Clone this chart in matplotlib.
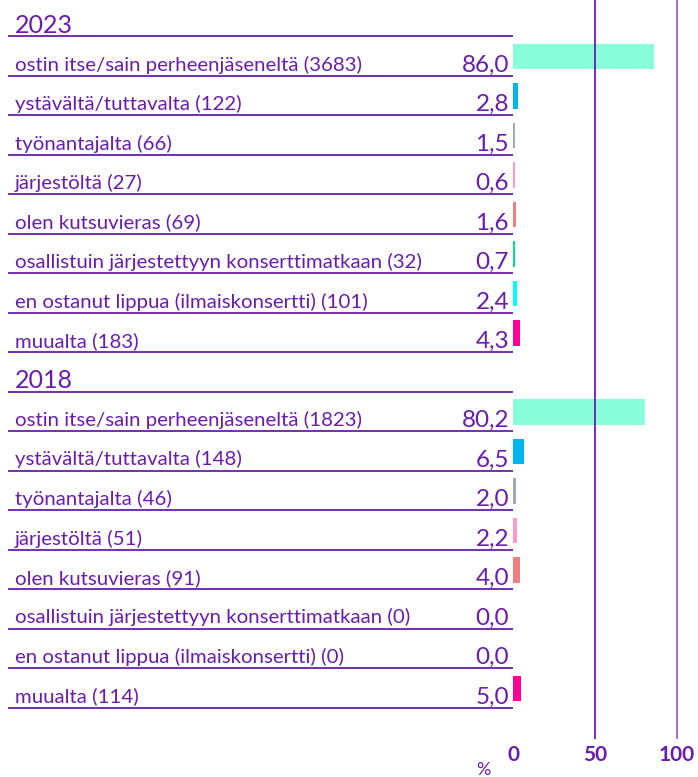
import matplotlib.pyplot as plt

plt.rcParams['font.family'] = ['Lato', 'DejaVu Sans']

years = ["2023", "2018"]
labels_2023 = ["ostin itse/sain perheenjäseneltä (3683)", "ystävältä/tuttavalta (122)",
               "työnantajalta (66)", "järjestöltä (27)", "olen kutsuvieras (69)",
               "osallistuin järjestettyyn konserttimatkaan (32)",
               "en ostanut lippua (ilmaiskonsertti) (101)", "muualta (183)"]
values_2023 = [86.0, 2.8, 1.5, 0.6, 1.6, 0.7, 2.4, 4.3]
labels_2018 = ["ostin itse/sain perheenjäseneltä (1823)", "ystävältä/tuttavalta (148)",
               "työnantajalta (46)", "järjestöltä (51)", "olen kutsuvieras (91)",
               "osallistuin järjestettyyn konserttimatkaan (0)",
               "en ostanut lippua (ilmaiskonsertti) (0)", "muualta (114)"]
values_2018 = [80.2, 6.5, 2.0, 2.2, 4.0, 0.0, 0.0, 5.0]
colors = ["#88ffd8", "#00b4f0", "#a2a9b0", "#ff99cc", "#f08080", "#00e08c", "#00ffff", "#ff0099"]
ticks = [0, 50, 100]

purple = "#6a1cae"
light = "#9a62d0"
W, H = 698, 777
px_per_unit = 1.64
x0 = 513
row_h = 39.5
sep0 = 36

fig = plt.figure(figsize=(W / 100, H / 100), dpi=100)
ax = fig.add_axes([0, 0, 1, 1])
ax.set_xlim(-x0 / px_per_unit, (W - x0) / px_per_unit)
ax.set_ylim((H - sep0) / row_h, -sep0 / row_h)
ax.axis('off')

def px(p):
    return (p - x0) / px_per_unit

def py(p):
    return (p - sep0) / row_h

# vertical reference lines
ax.vlines(50, py(0), py(739), color=purple, lw=1.3)
ax.vlines(100, py(0), py(739), color=light, lw=1.3)

row = 0
for year, labs, vals in [(years[0], labels_2023, values_2023), (years[1], labels_2018, values_2018)]:
    ax.text(px(15), row - 3.5 / row_h, year, fontsize=18, color=purple, va='baseline', ha='left')
    ax.hlines(row, px(8), 0, color=purple, lw=1.3)
    row += 1
    for lab, v, c in zip(labs, vals, colors):
        ax.text(px(15), row - 5 / row_h, lab, fontsize=14.7, color=purple, va='baseline', ha='left')
        ax.text(px(509), row - 4 / row_h, f"{v:.1f}".replace('.', ','), fontsize=17.5,
                color=purple, va='baseline', ha='right')
        if v > 0:
            ax.barh(row - 0.48, max(v, 1.5), height=0.64, left=0, color=c)
        ax.hlines(row, px(8), 0, color=purple, lw=1.3)
        row += 1

for t in ticks:
    ax.text(t, py(755), str(t), fontsize=15, fontweight='bold', color=purple,
            ha='center', va='center')
ax.text(px(483), py(770), "%", fontsize=13, color=purple, ha='center', va='center')

fig.savefig("out.png", dpi=100)
